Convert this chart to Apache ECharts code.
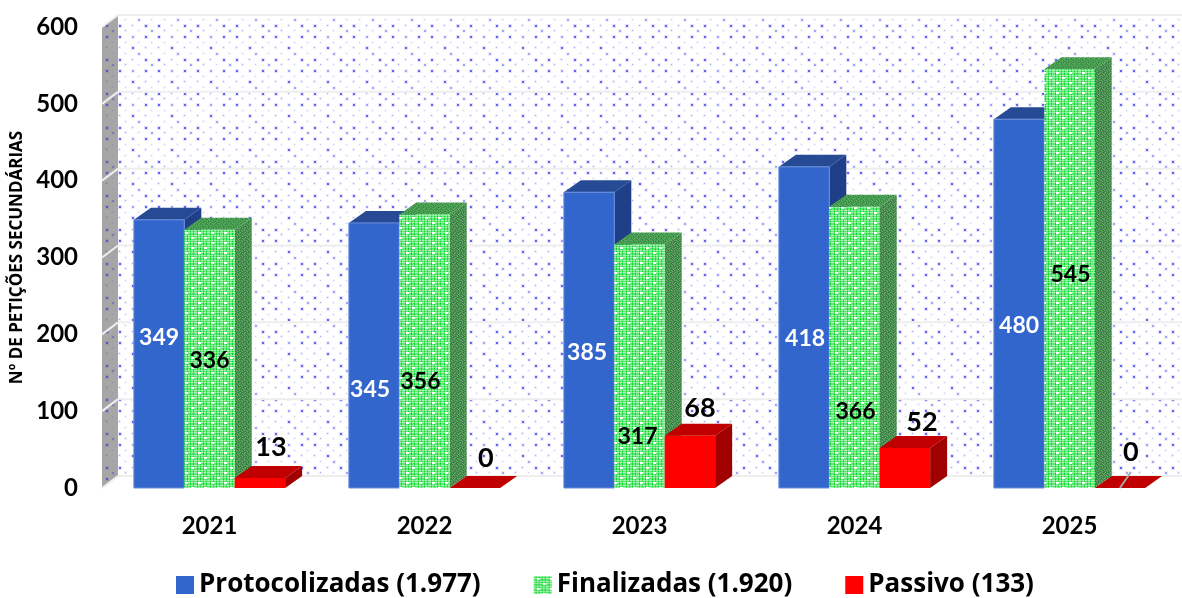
<!DOCTYPE html>
<html>
<head>
<meta charset="utf-8">
<style>html,body{margin:0;padding:0;background:#fff}#c{width:1182px;height:598px}</style>
<script src="https://cdn.jsdelivr.net/npm/echarts@6/dist/echarts.min.js"></script>
</head>
<body>
<div id="c"></div>
<script>
const categories = ['2021', '2022', '2023', '2024', '2025'];
const protocolizadas = [349, 345, 385, 418, 480];
const finalizadas = [336, 356, 317, 366, 545];
const passivo = [13, 0, 68, 52, 0];
const yTicks = [0, 100, 200, 300, 400, 500, 600];
const seriesNames = ['Protocolizadas (1.977)', 'Finalizadas (1.920)', 'Passivo (133)'];
const yAxisTitle = 'Nº DE PETIÇÕES SECUNDÁRIAS';

// hand-placed label nudges, from the centre of each bar's front face
const nudgeProtocolizadas = [[0, -16], [-4, 34], [-2, 12], [1, 11], [0, 22]];
const nudgeFinalizadas = [[0, 2], [-4, 30], [-2, 70], [1, 64], [1, -4]];
const nudgePassivo = [[11, -36], [11, -30], [10, -54], [17, -46], [11, -36]];
const leaderCategory = 4;

function tile(w, h, draw) {
  const c = document.createElement('canvas');
  c.width = w; c.height = h;
  draw(c.getContext('2d'));
  return { image: c, repeat: 'repeat' };
}
function dots(bg, strong, mid, light) {
  return tile(39, 34, g => {
    if (bg) { g.fillStyle = bg; g.fillRect(0, 0, 39, 34); }
    const spots = [
      [2, 2, strong, 2], [15, 2, mid, 2], [28, 2, strong, 2],
      [8, 8, light, 1], [21, 8, light, 1], [34, 8, light, 1],
      [2, 13, mid, 1], [15, 13, strong, 2], [28, 13, mid, 1],
      [8, 19, light, 1], [21, 19, mid, 2], [34, 19, light, 1],
      [2, 25, strong, 2], [15, 25, mid, 1], [28, 25, strong, 2],
      [8, 30, mid, 1], [21, 30, light, 1], [34, 30, mid, 2]
    ];
    spots.forEach(s => {
      g.fillStyle = s[2];
      g.globalAlpha = 0.18;
      g.fillRect(s[0] - 1, s[1] - 1, s[3] + 2, s[3] + 2);
      g.globalAlpha = 1;
      g.fillRect(s[0], s[1], s[3], s[3]);
    });
  });
}
const wallFill = dots('#ffffff', '#6464f0', '#a4a4f6', '#ccccfa');
const sideFill = dots('#a6a6a6', '#5a5ac0', '#7a7ab4', '#9494b0');
const greenFront = tile(13, 10, g => {
  g.fillStyle = '#0cd82e';
  g.fillRect(0, 0, 13, 10);
  g.fillStyle = 'rgba(255,255,255,0.38)';
  for (let x = 0; x < 13; x += 3) g.fillRect(x, 0, 2, 10);
  for (let y = 0; y < 10; y += 2.5) g.fillRect(0, Math.floor(y), 13, 1);
  g.fillStyle = '#ffffff';
  g.fillRect(3, 2, 3, 2);
  g.fillRect(9, 7, 3, 2);
});
function speckle(a, b, c) {
  return tile(5, 5, g => {
    const m = [0,1,0,2,1, 2,0,1,0,0, 1,0,0,2,0, 0,2,1,0,1, 0,0,2,1,0];
    m.forEach((v, i) => {
      g.fillStyle = [a, b, c][v];
      g.fillRect(i % 5, Math.floor(i / 5), 1, 1);
    });
  });
}
const greenTop = speckle('#3f9a4a', '#69a86e', '#2f8a3a');
const greenSide = speckle('#3d8f45', '#7a9f7c', '#2e7f38');

const DEPTH_X = 17, DEPTH_Y = -12, BAR_SHARE = 0.2345;
const labelFont = 'bold 23px Lato';
const bigLabelFont = 'bold 27px Lato';

function poly(points, fill, stroke) {
  return { type: 'polygon', shape: { points }, style: { fill, stroke: stroke || null, lineWidth: stroke ? 1 : 0 } };
}

function barRender(slot, faces, nudges, labelColor, font) {
  return function (params, api) {
    const i = api.value(0), v = api.value(1);
    const band = api.size([1, 0])[0];
    const w = band * BAR_SHARE;
    const base = api.coord([i, 0]);
    const top = api.coord([i, v]);
    const x0 = base[0] + (slot - 1.5) * w, x1 = x0 + w;
    const y0 = base[1], y1 = top[1];
    const dx = DEPTH_X, dy = DEPTH_Y;
    const children = [];
    children.push(poly([[x1, y0], [x1 + dx, y0 + dy], [x1 + dx, y1 + dy], [x1, y1]], faces.side));
    children.push(poly([[x0, y1], [x1, y1], [x1 + dx, y1 + dy], [x0 + dx, y1 + dy]], faces.top));
    if (y0 - y1 > 0) children.push(poly([[x0, y0], [x1, y0], [x1, y1], [x0, y1]], faces.front, faces.edge));
    const n = nudges[params.dataIndex];
    const lx = (x0 + x1) / 2 + n[0], ly = (y0 + y1) / 2 + n[1];
    if (slot === 2 && i === leaderCategory) {
      children.push({ type: 'line', z2: 50, shape: { x1: (x0 + x1) / 2, y1: y0, x2: lx, y2: ly + 20 }, style: { stroke: '#a6a6a6', lineWidth: 2 } });
    }
    children.push({
      type: 'text', z2: 100,
      style: { text: String(v), x: lx, y: ly, align: 'center', verticalAlign: 'middle', font, fill: labelColor }
    });
    return { type: 'group', children };
  };
}

function wallRender(params, api) {
  const cs = params.coordSys;
  const t = api.value(0);
  const y = api.coord([0, t])[1];
  const L = cs.x, R = cs.x + cs.width + 16, dx = 16, dy = -12;
  const children = [];
  if (params.dataIndex === 0) {
    const yTop = api.coord([0, yTicks[yTicks.length - 1]])[1];
    children.push(poly([[L + dx, y + dy], [R, y + dy], [R, yTop + dy], [L + dx, yTop + dy]], wallFill));
    children.push(poly([[L, y], [L + dx, y + dy], [L + dx, yTop + dy], [L, yTop]], sideFill));
  }
  children.push({ type: 'line', shape: { x1: L + dx, y1: y + dy, x2: R, y2: y + dy }, style: { stroke: '#eeeeee', lineWidth: 2 } });
  children.push({ type: 'line', shape: { x1: L, y1: y, x2: L + dx, y2: y + dy }, style: { stroke: '#eeeeee', lineWidth: 2 } });
  return { type: 'group', children };
}

const toPairs = arr => arr.map((v, i) => [i, v]);
const chart = echarts.init(document.getElementById('c'), null, { renderer: 'canvas' });
chart.setOption({
  animation: false,
  backgroundColor: '#ffffff',
  grid: { left: 102, right: 5, top: 27, bottom: 110, outerBoundsMode: 'none' },
  legend: {
    left: 176, top: 572, padding: 0,
    data: seriesNames,
    icon: 'rect', itemWidth: 18, itemHeight: 18, itemGap: 53,
    selectedMode: false,
    textStyle: { fontFamily: 'Open Sans', fontWeight: 'bold', fontSize: 26, color: '#000000' }
  },
  xAxis: {
    type: 'category', data: categories,
    axisLine: { show: false }, axisTick: { show: false },
    axisLabel: { fontFamily: 'Lato', fontWeight: 'bold', fontSize: 24, color: '#000000', margin: 26 }
  },
  yAxis: {
    type: 'value', min: 0, max: 600, interval: 100,
    name: yAxisTitle, nameLocation: 'middle', nameRotate: 90, nameGap: 69,
    nameTextStyle: { fontFamily: 'Open Sans', fontWeight: 'bold', fontSize: 17, color: '#000000' },
    axisLine: { show: false }, axisTick: { show: false }, splitLine: { show: false },
    axisLabel: { fontFamily: 'Lato', fontWeight: 'bold', fontSize: 24, color: '#000000', margin: 24 }
  },
  series: [
    { type: 'custom', name: 'walls', silent: true, z: 1, renderItem: wallRender, data: yTicks.map(t => [t]), encode: { y: 0 }, clip: false },
    { type: 'custom', name: seriesNames[0], z: 2, clip: false, itemStyle: { color: '#3366cc' },
      renderItem: barRender(0, { front: '#3366cc', top: '#264a94', side: '#1f3f88', edge: '#6a8fdc' }, nudgeProtocolizadas, '#ffffff', labelFont),
      data: toPairs(protocolizadas), encode: { x: 0, y: 1 } },
    { type: 'custom', name: seriesNames[1], z: 2, clip: false, itemStyle: { color: greenFront },
      renderItem: barRender(1, { front: greenFront, top: greenTop, side: greenSide }, nudgeFinalizadas, '#000000', labelFont),
      data: toPairs(finalizadas), encode: { x: 0, y: 1 } },
    { type: 'custom', name: seriesNames[2], z: 2, clip: false, itemStyle: { color: '#ff0000' },
      renderItem: barRender(2, { front: '#ff0000', top: '#c00000', side: '#a00000' }, nudgePassivo, '#000000', bigLabelFont),
      data: toPairs(passivo), encode: { x: 0, y: 1 } }
  ]
});
</script>
</body>
</html>
